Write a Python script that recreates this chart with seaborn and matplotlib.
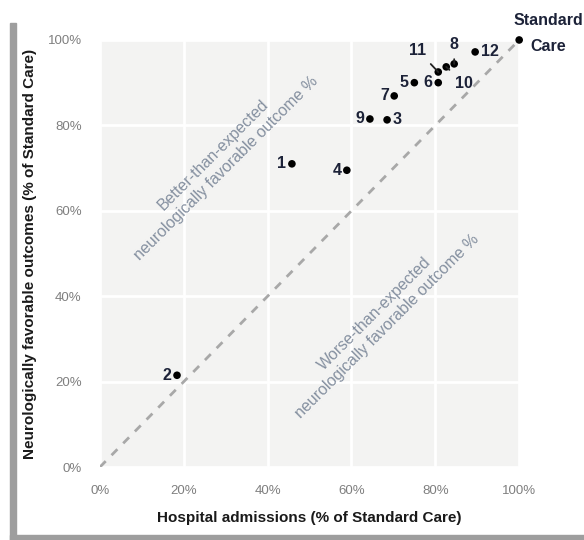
import pandas as pd
import matplotlib.pyplot as plt
import seaborn as sns
from matplotlib.patches import Rectangle

# values (% of Standard Care)
labels = ["1", "2", "3", "4", "5", "6", "7", "8", "9", "10", "11", "12", "Standard\nCare"]
admissions = [45.8, 18.4, 68.5, 58.9, 75.0, 80.7, 70.2, 84.5, 64.4, 82.6, 80.7, 89.5, 100.0]
favorable = [71.0, 21.5, 81.3, 69.5, 90.0, 90.0, 86.9, 94.4, 81.5, 93.7, 92.5, 97.2, 100.0]

df = pd.DataFrame({"label": labels, "Hospital admissions": admissions, "Favorable": favorable})

sns.set_style("whitegrid", {"axes.facecolor": "#f3f3f2", "grid.color": "white",
                            "axes.edgecolor": "none"})
plt.rcParams["font.family"] = ["Liberation Sans", "DejaVu Sans"]

fig = plt.figure(figsize=(5.84, 5.4), dpi=100)
ax = fig.add_axes([0.171, 0.135, 0.718, 0.791])

ax.plot([0, 100], [0, 100], ls=(0, (3, 3)), color="#a8a8a8", lw=2, zorder=1)
sns.scatterplot(data=df, x="Hospital admissions", y="Favorable", color="black",
                s=30, edgecolor="none", ax=ax, zorder=3, clip_on=False)

ax.set_xlim(0, 100)
ax.set_ylim(0, 100)
ticks = [0, 20, 40, 60, 80, 100]
ax.set_xticks(ticks)
ax.set_yticks(ticks)
ax.set_xticklabels([f"{t}%" for t in ticks], color="#7f7f7f", fontsize=9.5)
ax.set_yticklabels([f"{t}%" for t in ticks], color="#7f7f7f", fontsize=9.5)
ax.tick_params(length=0, pad=13)
ax.grid(True, color="white", lw=2)
ax.set_xlabel("Hospital admissions (% of Standard Care)", fontsize=11, fontweight="bold",
              color="#1a1a1a", labelpad=10)
ax.set_ylabel("Neurologically favorable outcomes (% of Standard Care)", fontsize=11,
              fontweight="bold", color="#1a1a1a", labelpad=8)

lab_col = "#1c2238"
# label offsets (text placement relative to point, in data units) and alignment
place = {
    "1": (-1.3, 0, "right"), "2": (-1.3, 0, "right"), "3": (1.3, 0, "left"),
    "4": (-1.3, 0, "right"), "5": (-1.3, 0, "right"), "6": (-1.3, 0, "right"),
    "7": (-1.3, 0, "right"), "9": (-1.3, 0, "right"), "12": (1.3, 0, "left"),
}
for _, r in df.iterrows():
    lab = r["label"]
    if lab in place:
        dx, dy, ha = place[lab]
        ax.text(r["Hospital admissions"] + dx, r["Favorable"] + dy, lab, ha=ha, va="center",
                fontsize=11.5, fontweight="bold", color=lab_col)

# leader-line labels
lead = {"8": (84.5, 99.0), "11": (75.8, 97.6), "10": (86.8, 89.8)}
for lab, (tx, ty) in lead.items():
    row = df[df["label"] == lab].iloc[0]
    ax.annotate(lab, xy=(row["Hospital admissions"], row["Favorable"]), xytext=(tx, ty),
                ha="center", va="center", fontsize=11.5, fontweight="bold", color=lab_col,
                arrowprops=dict(arrowstyle="-", color="#222222", lw=1.3, shrinkA=3, shrinkB=0))

ax.text(107.0, 101.6, "Standard\nCare", ha="center", va="center", fontsize=11.5,
        fontweight="bold", color=lab_col, clip_on=False, linespacing=1.9)

txt_col = "#8590a0"
ax.text(28.5, 71.5, "Better-than-expected\nneurologically favorable outcome %", rotation=45,
        rotation_mode="anchor", ha="center", va="center", fontsize=11.5, color=txt_col,
        linespacing=1.25)
ax.text(67.1, 34.4, "Worse-than-expected\nneurologically favorable outcome %", rotation=45,
        rotation_mode="anchor", ha="center", va="center", fontsize=11.5, color=txt_col,
        linespacing=1.25)

# frame shadow on left and bottom
fig.patches.append(Rectangle((10 / 584, 0), 6 / 584, 1 - 23 / 540, transform=fig.transFigure,
                             color="#9e9e9e", zorder=0))
fig.patches.append(Rectangle((10 / 584, 0), 1, 5 / 540, transform=fig.transFigure,
                             color="#9e9e9e", zorder=0))

fig.savefig("out.png", dpi=100)
